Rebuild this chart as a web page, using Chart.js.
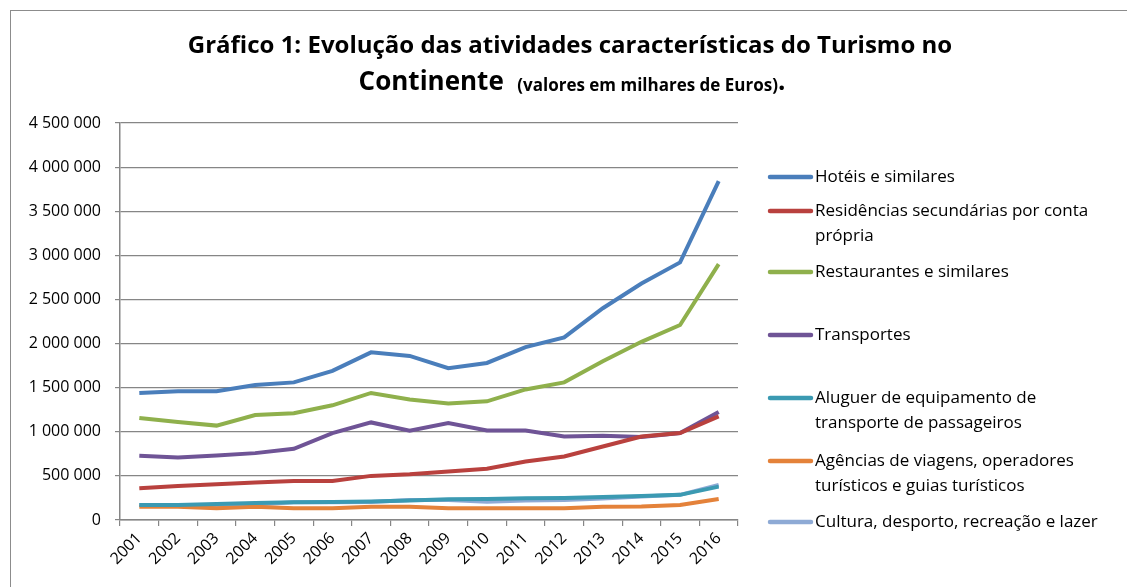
<!DOCTYPE html>
<html>
<head>
<meta charset="utf-8">
<script src="https://cdn.jsdelivr.net/npm/chart.js@4/dist/chart.umd.min.js"></script>
<style>
  html, body { margin: 0; padding: 0; background: #fff; }
  canvas { display: block; }
</style>
</head>
<body>
<canvas id="grafico" width="1127" height="587"></canvas>
<script>
// Dados (milhares de euros)
const anos = ['2001','2002','2003','2004','2005','2006','2007','2008','2009','2010','2011','2012','2013','2014','2015','2016'];

const hoteis        = [1440000,1460000,1460000,1530000,1560000,1690000,1900000,1860000,1720000,1780000,1960000,2070000,2400000,2680000,2920000,3840000];
const residencias   = [360000,386000,405000,424000,443000,443000,500000,519000,549000,580000,663000,720000,833000,947000,985000,1174000];
const restaurantes  = [1156000,1110000,1070000,1190000,1210000,1300000,1440000,1365000,1320000,1345000,1480000,1560000,1800000,2020000,2210000,2900000];
const transportes   = [727000,708000,731000,758000,807000,985000,1106000,1011000,1099000,1015000,1015000,947000,955000,940000,985000,1224000];
const aluguer       = [170000,170000,182000,193000,200000,205000,210000,220000,235000,238000,246000,250000,262000,273000,285000,378000];
const agencias      = [150000,150000,133000,150000,133000,133000,150000,150000,133000,133000,133000,133000,150000,152000,170000,239000];
const cultura       = [170000,160000,150000,175000,200000,200000,205000,227000,227000,208000,220000,227000,245000,265000,285000,398000];

const nomes = [
  ['Hotéis e similares'],
  ['Residências secundárias por conta', 'própria'],
  ['Restaurantes e similares'],
  ['Transportes'],
  ['Aluguer de equipamento de', 'transporte de passageiros'],
  ['Agências de viagens, operadores', 'turísticos e guias turísticos'],
  ['Cultura, desporto, recreação e lazer']
];
const cores = ['#4a7ebb', '#b9413e', '#8fb04c', '#6f5496', '#3b9ab2', '#e4823a', '#8eaad5'];
const series = [hoteis, residencias, restaurantes, transportes, aluguer, agencias, cultura];

const FONTE = '"Open Sans", Lato, sans-serif';

// titulo, moldura e legenda desenhados à mão
const extras = {
  id: 'extras',
  beforeDraw(chart) {
    const ctx = chart.ctx;
    ctx.save();
    ctx.strokeStyle = '#8c8c8c';
    ctx.lineWidth = 1;
    ctx.strokeRect(10.5, 10.5, 1200, 700);
    ctx.restore();
  },
  afterDraw(chart) {
    const ctx = chart.ctx;
    ctx.save();
    ctx.fillStyle = '#000';
    ctx.textBaseline = 'middle';

    // titulo
    ctx.textAlign = 'center';
    ctx.font = 'bold 24px ' + FONTE;
    ctx.fillText('Gráfico 1: Evolução das atividades características do Turismo no', 570, 46);
    const p1 = 'Continente  ';
    const p2 = '(valores em milhares de Euros)';
    const p3 = '.';
    ctx.font = 'bold 26px ' + FONTE;
    const w1 = ctx.measureText(p1).width;
    const w3 = ctx.measureText(p3).width;
    ctx.font = 'bold 17px ' + FONTE;
    const w2 = ctx.measureText(p2).width;
    let x = 572 - (w1 + w2 + w3) / 2;
    ctx.textAlign = 'left';
    ctx.font = 'bold 26px ' + FONTE;
    ctx.fillText(p1, x, 83);
    ctx.font = 'bold 17px ' + FONTE;
    ctx.fillText(p2, x + w1, 86);
    ctx.font = 'bold 26px ' + FONTE;
    ctx.fillText(p3, x + w1 + w2, 83);

    // legenda
    const posY = [177, 211, 272, 335, 398, 461, 522];
    ctx.font = '17px ' + FONTE;
    ctx.lineCap = 'round';
    nomes.forEach((linhas, i) => {
      ctx.strokeStyle = cores[i];
      ctx.lineWidth = 4.5;
      ctx.beginPath();
      ctx.moveTo(770, posY[i]);
      ctx.lineTo(811, posY[i]);
      ctx.stroke();
      linhas.forEach((t, j) => {
        ctx.fillStyle = '#000';
        ctx.fillText(t, 815, posY[i] + j * 25);
      });
    });
    ctx.restore();
  }
};

const ctx = document.getElementById('grafico').getContext('2d');
new Chart(ctx, {
  type: 'line',
  data: {
    labels: anos,
    datasets: series.map((s, i) => ({
      label: nomes[i].join(' '),
      data: s,
      borderColor: cores[i],
      backgroundColor: cores[i],
      borderWidth: 4,
      pointRadius: 0,
      tension: 0,
      fill: false
    }))
  },
  options: {
    responsive: false,
    animation: false,
    layout: { padding: { top: 123, right: 389, left: 0, bottom: 0 } },
    plugins: {
      legend: { display: false },
      title: { display: false },
      tooltip: { enabled: false }
    },
    scales: {
      x: {
        offset: true,
        grid: { display: true, drawOnChartArea: false, drawTicks: true, offset: true, tickLength: 6, color: '#868686', lineWidth: 1.2 },
        border: { color: '#868686', width: 1.5 },
        ticks: {
          color: '#000',
          font: { family: FONTE, size: 16 },
          maxRotation: 45,
          minRotation: 45,
          autoSkip: false,
          padding: 3
        },
        afterFit(scale) { scale.height = 67; }
      },
      y: {
        min: 0,
        max: 4500000,
        grid: { color: '#868686', lineWidth: 1.2, tickLength: 5 },
        border: { color: '#868686', width: 1.5 },
        ticks: {
          stepSize: 500000,
          color: '#000',
          padding: 14,
          font: { family: FONTE, size: 16 },
          callback: v => v === 0 ? '0' : String(v).replace(/\B(?=(\d{3})+(?!\d))/g, ' ')
        },
        afterFit(scale) { scale.width = 120; }
      }
    }
  },
  plugins: [extras]
});
</script>
</body>
</html>
